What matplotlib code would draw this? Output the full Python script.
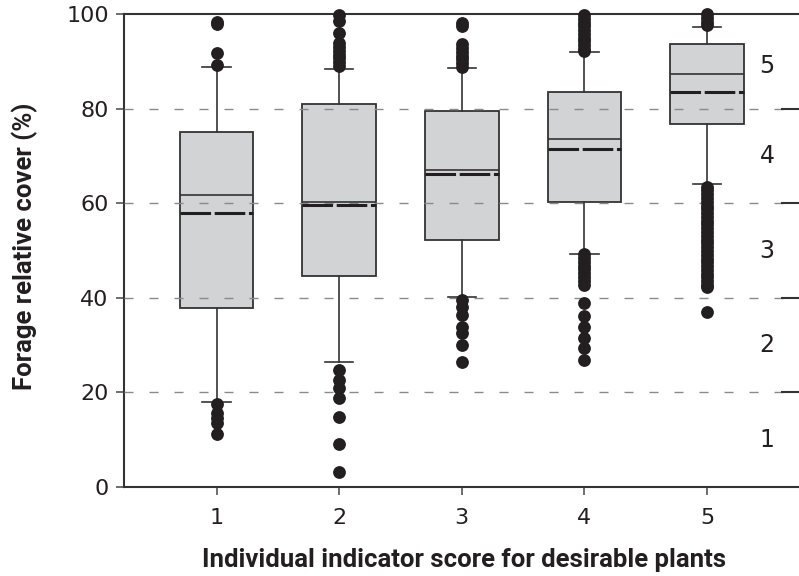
import matplotlib
matplotlib.use("Agg")
import matplotlib.pyplot as plt

# ---- data ----
scores = [1, 2, 3, 4, 5]
q1 = [37.9, 44.7, 52.3, 60.3, 76.7]
median = [61.7, 60.3, 67.1, 73.6, 87.3]
mean = [57.9, 59.6, 66.1, 71.4, 83.6]
q3 = [75.1, 81.0, 79.4, 83.6, 93.6]
whisker_low = [18.0, 26.4, 40.1, 49.3, 64.0]
whisker_high = [88.7, 88.4, 88.5, 91.9, 97.3]
fliers = [
    [98.4, 97.8, 91.7, 89.2, 17.6, 15.6, 14.6, 13.6, 11.3],
    [99.8, 98.6, 96.0, 93.8, 93.0, 92.2, 91.4, 90.6, 89.8, 89.0,
     24.7, 22.6, 20.9, 18.9, 14.8, 9.1, 3.2],
    [98.2, 97.5, 93.6, 92.8, 92.0, 91.2, 90.4, 89.6, 88.9,
     39.6, 38.1, 36.4, 33.9, 32.5, 30.0, 26.5],
    [99.8, 99.0, 98.2, 97.4, 96.6, 95.8, 95.0, 94.2, 93.4, 92.6, 92.1,
     49.2, 48.4, 47.6, 46.8, 46.0, 45.2, 44.4, 43.6, 42.8,
     38.8, 36.2, 33.9, 31.4, 29.3, 26.8],
    [100.0, 99.2, 98.4, 97.7,
     63.5, 62.7, 61.9, 61.1, 60.3, 59.5, 58.7, 57.9, 57.1, 56.3, 55.5,
     54.7, 53.9, 53.1, 52.3, 51.5, 50.7, 49.9, 49.1, 48.3, 47.5, 46.7,
     45.9, 45.1, 44.3, 43.5, 42.7, 42.3, 36.9],
]
class_levels = [10, 30, 50, 70, 89]
class_labels = ["1", "2", "3", "4", "5"]
class_bounds = [20, 40, 60, 80]

# ---- figure ----
fig = plt.figure(figsize=(7.99, 5.76), dpi=100)
ax = fig.add_axes([124 / 799, 1 - 487 / 576, 1 - 124 / 799, (487 - 14) / 576])

stats = []
for i in range(len(scores)):
    stats.append(dict(med=median[i], q1=q1[i], q3=q3[i], whislo=whisker_low[i],
                      whishi=whisker_high[i], mean=mean[i], fliers=fliers[i]))

edge = "#333333"
ax.bxp(stats, positions=scores, widths=0.6, capwidths=0.23, patch_artist=True,
       showmeans=True, meanline=True, showfliers=True,
       boxprops=dict(facecolor="#d1d3d4", edgecolor=edge, linewidth=1.3),
       medianprops=dict(color="#333333", linewidth=1.2),
       meanprops=dict(color="#231f20", linewidth=2.2, linestyle=(0, (10, 1.2))),
       whiskerprops=dict(color=edge, linewidth=1.2),
       capprops=dict(color=edge, linewidth=1.2),
       flierprops=dict(marker="o", markersize=8.2, markerfacecolor="#231f20",
                       markeredgecolor="#231f20", linestyle="none"))
for ln in ax.lines:
    ln.set_clip_on(False)
    ln.set_zorder(4)

for b in class_bounds:
    ax.axhline(b, color="#8a8a8a", linewidth=1.0, linestyle=(0, (6.5, 11.5)), zorder=3)

for lvl, lab in zip(class_levels, class_labels):
    ax.text(5.49, lvl, lab, ha="center", va="center", fontsize=17, color="#231f20")

ax.set_xlim(0.245, 5.75)
ax.set_ylim(0, 100)
ax.set_xticks(scores)
ax.set_xticklabels([str(s) for s in scores])
ax.set_yticks([0, 20, 40, 60, 80, 100])

for s in ["left", "bottom", "top"]:
    ax.spines[s].set_color("#333333")
    ax.spines[s].set_linewidth(1.5)
ax.spines["right"].set_visible(False)
ax.tick_params(axis="both", direction="out", length=6, width=1.2, color="#555555",
               labelsize=16, labelcolor="#231f20")
ax.tick_params(axis="x", pad=9)
ax.tick_params(axis="y", pad=5)

ax2 = ax.twinx()
ax2.set_ylim(0, 100)
ax2.set_yticks(class_bounds)
ax2.tick_params(axis="y", direction="in", length=13, width=1.5, color="#333333",
                labelright=False)
for s in ax2.spines.values():
    s.set_visible(False)

fig.text(25 / 799, 1 - 246 / 576, "Forage relative cover (%)", rotation=90,
         ha="center", va="center", fontsize=18.5, fontweight="bold",
         family="Roboto", color="#231f20")
fig.text(464 / 799, 1 - 560 / 576, "Individual indicator score for desirable plants",
         ha="center", va="center", fontsize=18.5, fontweight="bold",
         family="Roboto", color="#231f20")

fig.savefig("out.png", dpi=100)
